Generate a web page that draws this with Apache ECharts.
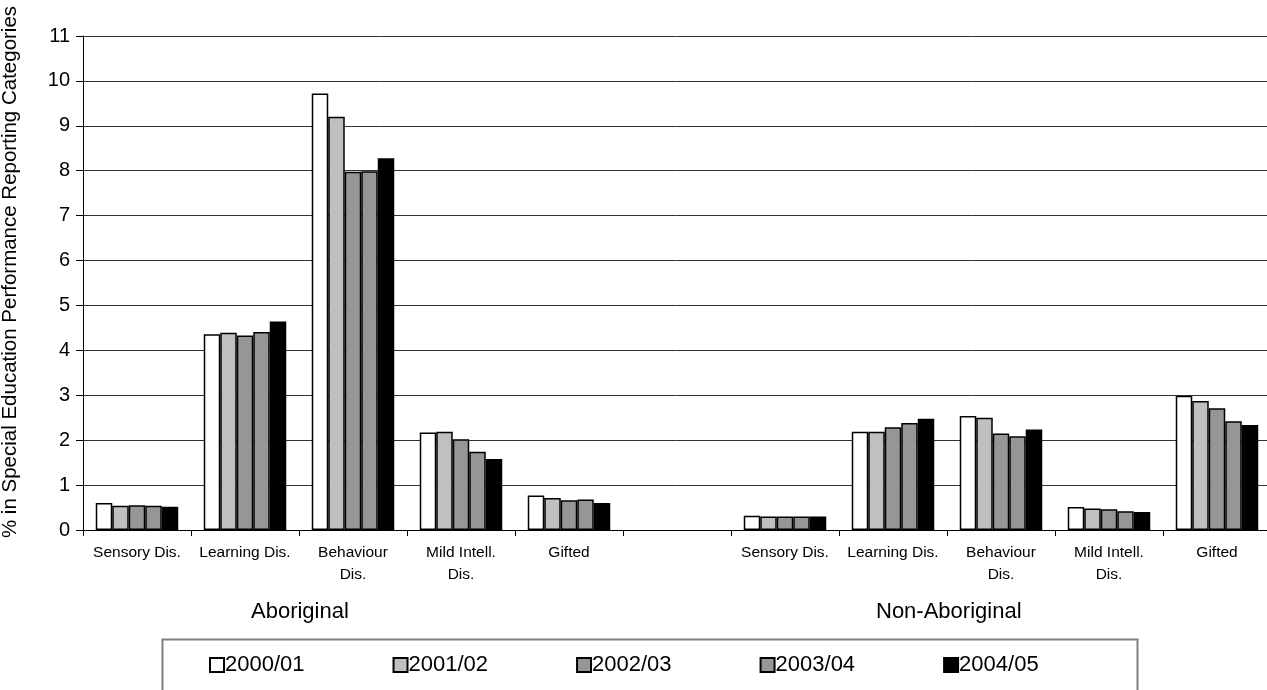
<!DOCTYPE html>
<html>
<head>
<meta charset="utf-8">
<script src="https://cdn.jsdelivr.net/npm/echarts@6/dist/echarts.min.js"></script>
<style>
html,body{margin:0;padding:0;background:#fff;}
#chart{width:1267px;height:690px;}
</style>
</head>
<body>
<div id="chart"></div>
<script>
var categories = ['Sensory Dis.', 'Learning Dis.', 'Behaviour\nDis.', 'Mild Intell.\nDis.', 'Gifted', '', 'Sensory Dis.', 'Learning Dis.', 'Behaviour\nDis.', 'Mild Intell.\nDis.', 'Gifted'];
var years = ['2000/01', '2001/02', '2002/03', '2003/04', '2004/05'];
var yearColors = ['#ffffff', '#c0c0c0', '#969696', '#969696', '#000000'];

// Aboriginal values (Sensory, Learning, Behaviour, Mild Intell., Gifted)
var abo2000 = [0.60, 4.36, 9.72, 2.17, 0.77];
var abo2001 = [0.54, 4.39, 9.20, 2.19, 0.71];
var abo2002 = [0.55, 4.33, 7.98, 2.02, 0.66];
var abo2003 = [0.54, 4.41, 7.99, 1.74, 0.68];
var abo2004 = [0.52, 4.64, 8.28, 1.58, 0.60];

// Non-Aboriginal values
var non2000 = [0.32, 2.19, 2.54, 0.51, 2.99];
var non2001 = [0.30, 2.19, 2.50, 0.48, 2.87];
var non2002 = [0.30, 2.29, 2.15, 0.46, 2.71];
var non2003 = [0.30, 2.38, 2.09, 0.42, 2.42];
var non2004 = [0.30, 2.48, 2.24, 0.40, 2.34];

var aboSeries = [abo2000, abo2001, abo2002, abo2003, abo2004];
var nonSeries = [non2000, non2001, non2002, non2003, non2004];

var font = 'Liberation Sans, Arial, sans-serif';

var series = years.map(function (y, i) {
  return {
    name: y,
    type: 'bar',
    data: aboSeries[i].concat([null]).concat(nonSeries[i]),
    barWidth: 16.5,
    barGap: '0%',
    itemStyle: { color: yearColors[i], borderColor: '#000', borderWidth: 1.5 },
    emphasis: { disabled: true },
    animation: false
  };
});

var chart = echarts.init(document.getElementById('chart'), null, { renderer: 'canvas' });
chart.setOption({
  animation: false,
  backgroundColor: '#fff',
  textStyle: { fontFamily: font, color: '#000' },
  grid: { left: 83, top: 36, right: -4, bottom: 160, containLabel: false, outerBoundsMode: 'none' },
  xAxis: {
    type: 'category',
    data: categories,
    boundaryGap: true,
    axisLine: { lineStyle: { color: '#000', width: 1 } },
    axisTick: { show: true, length: 6, lineStyle: { color: '#000' } },
    axisLabel: { interval: 0, fontSize: 15.5, color: '#000', margin: 12, lineHeight: 22, fontFamily: font }
  },
  yAxis: {
    type: 'value',
    min: 0,
    max: 11,
    interval: 1,
    name: '% in Special Education Performance Reporting Categories',
    nameLocation: 'middle',
    nameGap: 62,
    nameTextStyle: { fontSize: 20.5, color: '#000', fontFamily: font, padding: [0, 0, 0, 22] },
    axisLine: { show: true, lineStyle: { color: '#000', width: 1 } },
    axisTick: { show: true, length: 7, lineStyle: { color: '#000' } },
    axisLabel: { fontSize: 20, color: '#000', margin: 13, fontFamily: font },
    splitLine: { show: true, lineStyle: { color: '#333', width: 1 } }
  },
  legend: {
    data: years,
    left: 204,
    top: 649,
    icon: 'rect',
    itemWidth: 14,
    itemHeight: 14,
    itemGap: 88,
    textStyle: { fontSize: 22, color: '#000', fontFamily: font, padding: [0, 0, 0, -4] },
    selectedMode: false
  },
  graphic: [
    {
      type: 'rect',
      left: 160,
      top: 637,
      shape: { width: 975, height: 80 },
      style: { fill: 'none', stroke: '#808080', lineWidth: 2 },
      silent: true
    },
    {
      type: 'text',
      left: 251,
      top: 601,
      style: { text: 'Aboriginal', fontSize: 22, fill: '#000', fontFamily: font }
    },
    {
      type: 'text',
      left: 876,
      top: 601,
      style: { text: 'Non-Aboriginal', fontSize: 22, fill: '#000', fontFamily: font }
    }
  ],
  series: series
});
</script>
</body>
</html>
